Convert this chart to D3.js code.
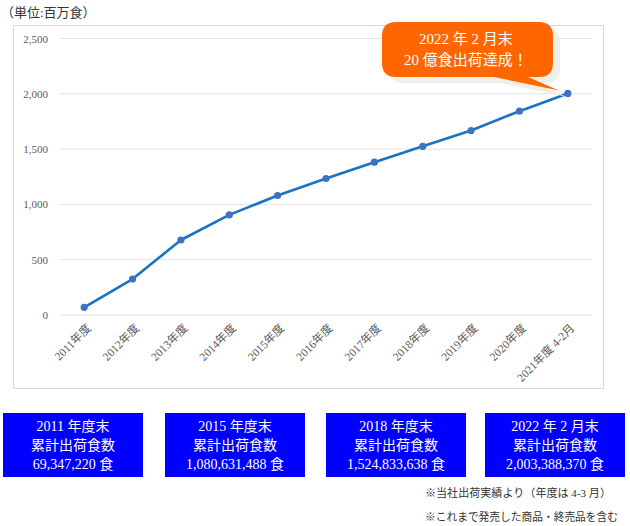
<!DOCTYPE html>
<html>
<head>
<meta charset="utf-8">
<script src="https://cdn.jsdelivr.net/npm/d3@7"></script>
<style>
  body { margin: 0; background: #fff; }
  svg { display: block; font-family: "Liberation Serif", "Noto Sans CJK JP", serif; }
</style>
</head>
<body>
<script>
// cumulative shipments, millions of meals
const years = ["2011年度", "2012年度", "2013年度", "2014年度", "2015年度", "2016年度",
  "2017年度", "2018年度", "2019年度", "2020年度", "2021年度 4-2月"];
const totals = [69.3, 325, 678, 905, 1080.6, 1234, 1382, 1524.8, 1668, 1843, 2003.4];
const yTicks = [0, 500, 1000, 1500, 2000, 2500];

const calloutLines = ["2022 年 2 月末", "20 億食出荷達成！"];
const boxTitles = ["2011 年度末", "2015 年度末", "2018 年度末", "2022 年 2 月末"];
const boxValues = ["69,347,220 食", "1,080,631,488 食", "1,524,833,638 食", "2,003,388,370 食"];
const notes = ["※当社出荷実績より（年度は 4-3 月）", "※これまで発売した商品・終売品を含む"];

let width = 630, height = 526;

let svg = d3.select("body").append("svg")
  .attr("width", width)
  .attr("height", height);

svg.append("text")
  .attr("x", 1).attr("y", 17)
  .attr("font-size", 13)
  .attr("fill", "#333")
  .text("（単位:百万食）");

// chart frame
svg.append("rect")
  .attr("x", 13.5).attr("y", 25.5)
  .attr("width", 590).attr("height", 363)
  .attr("fill", "#fff")
  .attr("stroke", "#d9d9d9");

let x = d3.scalePoint()
  .domain(years)
  .range([60, 592])
  .padding(0.5);

let y = d3.scaleLinear()
  .domain([0, 2500])
  .range([315, 38.5]);

let grid = svg.append("g");
grid.selectAll("line")
  .data(yTicks)
  .enter().append("line")
  .attr("x1", 60).attr("x2", 592)
  .attr("y1", d => y(d)).attr("y2", d => y(d))
  .attr("stroke", "#e3e3e3")
  .attr("stroke-width", 1);

let yAxis = svg.append("g")
  .attr("transform", "translate(48,0)")
  .call(d3.axisLeft(y).tickValues(yTicks).tickSize(0).tickPadding(0).tickFormat(d3.format(",")));
yAxis.select(".domain").remove();
yAxis.selectAll("text")
  .attr("font-family", "Liberation Serif, serif")
  .attr("font-size", 11)
  .attr("fill", "#595959");

let xAxis = svg.append("g")
  .attr("transform", "translate(0,315)")
  .call(d3.axisBottom(x).tickSize(0));
xAxis.select(".domain").remove();
xAxis.selectAll("text")
  .attr("font-family", "Liberation Serif, Noto Sans CJK JP, serif")
  .attr("font-size", 11.5)
  .attr("fill", "#595959")
  .attr("text-anchor", "end")
  .attr("y", 0)
  .attr("dy", "0.35em")
  .attr("transform", "translate(4,11) rotate(-45)");

let line = d3.line()
  .x((d, i) => x(years[i]))
  .y(d => y(d));

svg.append("path")
  .datum(totals)
  .attr("d", line)
  .attr("fill", "none")
  .attr("stroke", "#1a72c2")
  .attr("stroke-width", 2.6)
  .attr("stroke-linejoin", "round");

svg.selectAll(".dot")
  .data(totals)
  .enter().append("circle")
  .attr("class", "dot")
  .attr("cx", (d, i) => x(years[i]))
  .attr("cy", d => y(d))
  .attr("r", 3.6)
  .attr("fill", "#3d72c4");

// speech bubble pointing at the last point
let tipX = x(years[years.length - 1]) - 9, tipY = y(totals[totals.length - 1]) - 3;
function bubble(dx, dy) {
  let p = d3.path();
  let l = 382 + dx, r = 553 + dx, t = 22 + dy, b = 77 + dy, rad = 14;
  p.moveTo(l + rad, t);
  p.lineTo(r - rad, t);
  p.quadraticCurveTo(r, t, r, t + rad);
  p.lineTo(r, b - rad);
  p.quadraticCurveTo(r, b, r - rad, b);
  p.lineTo(528 + dx, b);
  p.lineTo(tipX + dx, tipY + dy);
  p.lineTo(494 + dx, b);
  p.lineTo(l + rad, b);
  p.quadraticCurveTo(l, b, l, b - rad);
  p.lineTo(l, t + rad);
  p.quadraticCurveTo(l, t, l + rad, t);
  p.closePath();
  return p.toString();
}
svg.append("path").attr("d", bubble(7, 6)).attr("fill", "#efeee8");
svg.append("path").attr("d", bubble(0, 0)).attr("fill", "#ff6600");

svg.append("g").selectAll("text")
  .data(calloutLines)
  .enter().append("text")
  .attr("x", 466)
  .attr("y", (d, i) => 44 + i * 21)
  .attr("text-anchor", "middle")
  .attr("font-size", 15)
  .attr("fill", "#fff")
  .text(d => d);

// summary boxes
const boxX = [3, 165, 326, 485];
let boxes = svg.selectAll(".box")
  .data(boxTitles)
  .enter().append("g")
  .attr("class", "box")
  .attr("transform", (d, i) => "translate(" + boxX[i] + ",413)");

boxes.append("rect")
  .attr("width", 140).attr("height", 64)
  .attr("fill", "#0000ff");

boxes.each(function(d, i) {
  let lines = [d, "累計出荷食数", boxValues[i]];
  d3.select(this).selectAll("text")
    .data(lines)
    .enter().append("text")
    .attr("x", 70)
    .attr("y", (t, j) => 18 + j * 19)
    .attr("text-anchor", "middle")
    .attr("font-size", 14)
    .attr("fill", "#fff")
    .text(t => t);
});

const noteLen = [186, 193];
svg.append("g").selectAll("text")
  .data(notes)
  .enter().append("text")
  .attr("x", 425)
  .attr("y", (d, i) => 497 + i * 24)
  .attr("font-size", 11)
  .attr("fill", "#333")
  .attr("textLength", (d, i) => noteLen[i])
  .attr("lengthAdjust", "spacingAndGlyphs")
  .text(d => d);
</script>
</body>
</html>
